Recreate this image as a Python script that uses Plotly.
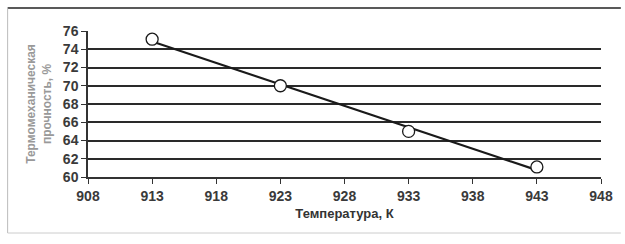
import numpy as np
import plotly.graph_objects as go

temperature = [913, 923, 933, 943]
strength = [75.1, 70.0, 65.0, 61.1]
x_ticks = [908, 913, 918, 923, 928, 933, 938, 943, 948]
y_ticks = [60, 62, 64, 66, 68, 70, 72, 74, 76]

slope, intercept = np.polyfit(temperature, strength, 1)
trend_x = [temperature[0], temperature[-1]]
trend_y = [slope * v + intercept for v in trend_x]

fig = go.Figure()
fig.add_trace(go.Scatter(x=trend_x, y=trend_y, mode="lines",
                         line=dict(color="#1a1a1a", width=2.2), showlegend=False))
fig.add_trace(go.Scatter(x=temperature, y=strength, mode="markers",
                         marker=dict(symbol="circle", size=12, color="white",
                                     line=dict(color="#1a1a1a", width=1.3)),
                         showlegend=False))

fam = "Liberation Sans, Arial, sans-serif"
W, H = 625, 244
L, R, T, B = 88, 20, 31, 67
pw, ph = W - L - R, H - T - B
fig.update_layout(
    width=W, height=H,
    margin=dict(l=L, r=R, t=T, b=B),
    paper_bgcolor="white", plot_bgcolor="white",
    font=dict(family=fam),
    xaxis=dict(range=[908, 948], tickvals=x_ticks, ticktext=[str(v) for v in x_ticks],
               showgrid=False, zeroline=False, showline=True, linecolor="#333", linewidth=1.5,
               ticks="outside", ticklen=5, tickcolor="#333", tickwidth=1.2,
               tickfont=dict(size=14, color="#3a3a3a", weight="bold", family=fam),
               title=dict(text="Температура, К", standoff=6,
                          font=dict(size=13, color="#333", weight="bold", family=fam))),
    yaxis=dict(range=[60, 76], tickvals=y_ticks,
               showgrid=True, gridcolor="#2a2a2a", gridwidth=1.5,
               zeroline=False, showline=True, linecolor="#333", linewidth=1.5,
               ticks="outside", ticklen=5, tickcolor="#333", tickwidth=1.2,
               tickfont=dict(size=14, color="#3a3a3a", weight="bold", family=fam),
               title=dict(text="Термомеханическая<br>прочность, %", standoff=9,
                          font=dict(size=12, color="#999", weight="bold", family=fam))),
)
# outer frame of the chart (pixel positions converted to paper coords)
top = 1 + (T - 8) / ph
bot = -(233 - (T + ph)) / ph
left = -(L - 7) / pw
right = 1 + R / pw
fig.add_shape(type="line", xref="paper", yref="paper", x0=left, x1=right, y0=top, y1=top,
              line=dict(color="#222", width=1.5))
fig.add_shape(type="line", xref="paper", yref="paper", x0=left, x1=left, y0=top, y1=bot,
              line=dict(color="#bbb", width=1))
fig.add_shape(type="line", xref="paper", yref="paper", x0=left, x1=right, y0=bot, y1=bot,
              line=dict(color="#ccc", width=1))
fig.write_html("out.html", config={"displayModeBar": False},
               post_script="document.body.style.margin='0';document.body.style.overflow='hidden';")
